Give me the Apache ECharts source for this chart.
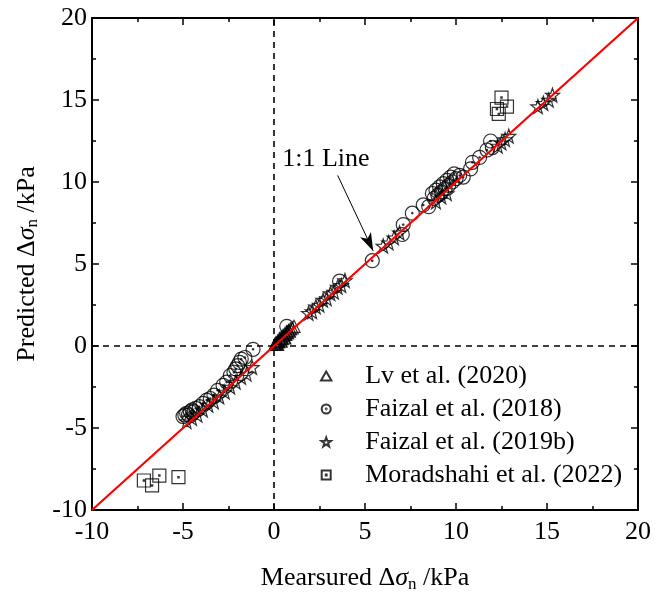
<!DOCTYPE html>
<html>
<head>
<meta charset="utf-8">
<script src="https://cdn.jsdelivr.net/npm/echarts@6/dist/echarts.min.js"></script>
<style>
  html, body { margin: 0; padding: 0; background: #fff; }
  #chart { width: 656px; height: 594px; }
</style>
</head>
<body>
<div id="chart"></div>
<script>
// axis range + ticks
const axisMin = -10;
const axisMax = 20;
const axisStep = 5;

// Lv et al. (2020) - dense cluster near origin
const lvData = [
  [0.05, 0.1], [0.1, 0.2], [0.15, 0.15], [0.2, 0.3], [0.25, 0.25], [0.3, 0.45],
  [0.35, 0.35], [0.4, 0.55], [0.45, 0.45], [0.5, 0.65], [0.55, 0.55], [0.6, 0.75],
  [0.65, 0.7], [0.7, 0.85], [0.75, 0.8], [0.8, 0.95], [0.85, 0.9], [0.9, 1.05],
  [1.0, 1.1], [1.1, 1.2], [0.2, 0.1], [0.4, 0.3], [0.6, 0.5]
];

// Faizal et al. (2018)
const faizal2018Data = [
  [-5.0, -4.3], [-4.9, -4.2], [-4.8, -4.1], [-4.7, -4.2], [-4.6, -4.0], [-4.5, -3.9],
  [-4.4, -4.0], [-4.3, -3.8], [-4.1, -3.7], [-3.9, -3.5], [-3.7, -3.3], [-3.5, -3.2],
  [-3.3, -3.0], [-3.1, -2.7], [-2.8, -2.4], [-2.6, -2.2], [-2.4, -1.8], [-2.2, -1.6],
  [-2.1, -1.4], [-2.0, -1.2], [-1.9, -1.0], [-1.8, -0.8], [-1.6, -0.7], [-1.15, -0.2],
  [0.7, 1.2], [3.6, 3.95], [5.4, 5.2], [7.05, 6.8], [7.1, 7.4], [7.6, 8.1],
  [8.2, 8.6], [8.5, 8.5], [8.7, 9.3], [8.8, 9.0], [8.9, 9.5], [9.0, 9.2],
  [9.1, 9.7], [9.2, 9.4], [9.3, 9.9], [9.4, 9.6], [9.5, 10.1], [9.6, 9.8],
  [9.7, 10.3], [9.8, 10.0], [9.9, 10.5], [10.0, 10.2], [10.2, 10.4], [10.4, 10.3],
  [10.8, 10.8], [10.9, 11.2], [11.3, 11.5], [11.7, 11.95], [11.9, 12.5], [12.0, 12.1]
];

// Faizal et al. (2019b)
const faizal2019bData = [
  [-4.8, -4.6], [-4.5, -4.4], [-4.2, -4.2], [-3.9, -3.9], [-3.6, -3.6], [-3.3, -3.4],
  [-3.0, -3.1], [-2.7, -2.8], [-2.4, -2.5], [-2.1, -2.2], [-1.8, -1.9], [-1.5, -1.7],
  [-1.2, -1.3], [1.9, 2.0], [2.1, 2.1], [2.3, 2.4], [2.5, 2.5], [2.7, 2.8],
  [2.9, 2.9], [3.1, 3.2], [3.3, 3.3], [3.5, 3.6], [3.7, 3.7], [3.9, 4.0],
  [6.0, 6.1], [6.3, 6.3], [6.6, 6.6], [6.9, 6.9], [8.9, 8.8], [9.2, 9.1], [9.5, 9.3],
  [12.3, 12.2], [12.5, 12.4], [12.7, 12.6], [12.9, 12.8],
  [14.5, 14.6], [14.8, 14.8], [15.1, 15.0], [15.3, 15.3]
];

// Moradshahi et al. (2022)
const moradshahiData = [
  [-7.15, -8.2], [-6.7, -8.5], [-6.3, -7.9], [-5.25, -8.0],
  [12.25, 14.45], [12.35, 14.15], [12.5, 15.15], [12.8, 14.6]
];

const oneToOne = [[-10, -10], [20, 20]];
const zeroV = [[0, -10], [0, 20]];
const zeroH = [[-10, 0], [20, 0]];

const FONT = '"Liberation Serif", "Times New Roman", serif';

const triPath = 'path://M0,-10 L8.66,5 L-8.66,5 Z';
const circPath = 'path://M0,-10 A10,10 0 1,1 0,10 A10,10 0 1,1 0,-10 Z M0,-1 A1,1 0 1,1 0,1 A1,1 0 1,1 0,-1 Z';
const starPath = 'path://M0,-10 L2.35,-3.24 L9.51,-3.09 L3.8,1.24 L5.88,8.09 L0,4 L-5.88,8.09 L-3.8,1.24 L-9.51,-3.09 L-2.35,-3.24 Z';
const sqPath = 'path://M-10,-10 L10,-10 L10,10 L-10,10 Z M-1,-1 L1,-1 L1,1 L-1,1 Z';

const markerStyle = { color: 'transparent', borderColor: '#000', borderWidth: 1.2 };

const axisCommon = {
  type: 'value',
  min: axisMin,
  max: axisMax,
  interval: axisStep,
  axisLine: { show: true, onZero: false, lineStyle: { color: '#000', width: 2 } },
  axisTick: { show: true, inside: true, length: 7, lineStyle: { color: '#000', width: 1.5 } },
  minorTick: { show: true, splitNumber: 2, length: 4, lineStyle: { color: '#000', width: 1.5 } },
  splitLine: { show: false },
  axisLabel: { color: '#000', fontFamily: FONT, fontSize: 26 }
};

const nameRich = {
  t: { fontFamily: FONT, fontSize: 26, color: '#000' },
  s: { fontFamily: FONT, fontSize: 26, color: '#000', fontStyle: 'italic' },
  sub: { fontFamily: FONT, fontSize: 17, color: '#000', verticalAlign: 'bottom', padding: [12, 0, 0, 0] }
};

const chart = echarts.init(document.getElementById('chart'));
chart.setOption({
  animation: false,
  backgroundColor: '#fff',
  grid: { left: 92, right: 18, top: 18, bottom: 84, outerBoundsMode: 'none' },
  legend: {
    orient: 'vertical',
    left: 315,
    top: 358,
    itemWidth: 48,
    itemHeight: 9,
    itemGap: 7,
    textStyle: { fontFamily: FONT, fontSize: 26, color: '#000', padding: [0, 0, 0, 10] },
    data: ['Lv et al. (2020)', 'Faizal et al. (2018)', 'Faizal et al. (2019b)', 'Moradshahi et al. (2022)']
  },
  xAxis: [
    Object.assign({}, axisCommon, {
      position: 'bottom',
      name: '{t|Mearsured Δ}{s|σ}{sub|n}{t| /kPa}',
      nameLocation: 'middle',
      nameGap: 54,
      nameTextStyle: { rich: nameRich },
      axisLabel: Object.assign({}, axisCommon.axisLabel, { margin: 9 })
    }),
    Object.assign({}, axisCommon, { position: 'top', axisLabel: { show: false } })
  ],
  yAxis: [
    Object.assign({}, axisCommon, {
      position: 'left',
      name: '{t|Predicted Δ}{s|σ}{sub|n}{t| /kPa}',
      nameLocation: 'middle',
      nameGap: 47,
      nameTextStyle: { rich: nameRich },
      axisLabel: Object.assign({}, axisCommon.axisLabel, { margin: 5 })
    }),
    Object.assign({}, axisCommon, { position: 'right', axisLabel: { show: false } })
  ],
  series: [
    {
      type: 'line', data: zeroV, symbol: 'none', silent: true,
      lineStyle: { color: '#000', width: 1.6, type: [6, 5] }, z: 1
    },
    {
      type: 'line', data: zeroH, symbol: 'none', silent: true,
      lineStyle: { color: '#000', width: 1.6, type: [6, 5] }, z: 1
    },
    {
      name: 'Lv et al. (2020)', type: 'scatter', data: lvData,
      symbol: triPath, symbolSize: 12, itemStyle: markerStyle, z: 2
    },
    {
      name: 'Faizal et al. (2018)', type: 'scatter', data: faizal2018Data,
      symbol: circPath, symbolSize: 14, itemStyle: markerStyle, z: 2
    },
    {
      name: 'Faizal et al. (2019b)', type: 'scatter', data: faizal2019bData,
      symbol: starPath, symbolSize: 14, itemStyle: markerStyle, z: 2
    },
    {
      name: 'Moradshahi et al. (2022)', type: 'scatter', data: moradshahiData,
      symbol: sqPath, symbolSize: 13, itemStyle: markerStyle, z: 2
    },
    {
      type: 'line', data: oneToOne, symbol: 'none', silent: true,
      lineStyle: { color: '#ff0000', width: 2.2 }, z: 3,
      markLine: {
        silent: true,
        symbol: ['none', 'arrow'],
        symbolSize: [9, 18],
        label: { show: false },
        lineStyle: { color: '#000', width: 1, type: 'solid' },
        data: [[{ coord: [3.5, 10.4] }, { coord: [5.45, 5.8] }]]
      },
      markPoint: {
        silent: true,
        symbol: 'circle',
        symbolSize: 0,
        label: {
          show: true, position: 'inside', formatter: '1:1 Line',
          fontFamily: FONT, fontSize: 26, color: '#000'
        },
        data: [{ coord: [2.85, 11.4] }]
      }
    }
  ]
});
</script>
</body>
</html>
